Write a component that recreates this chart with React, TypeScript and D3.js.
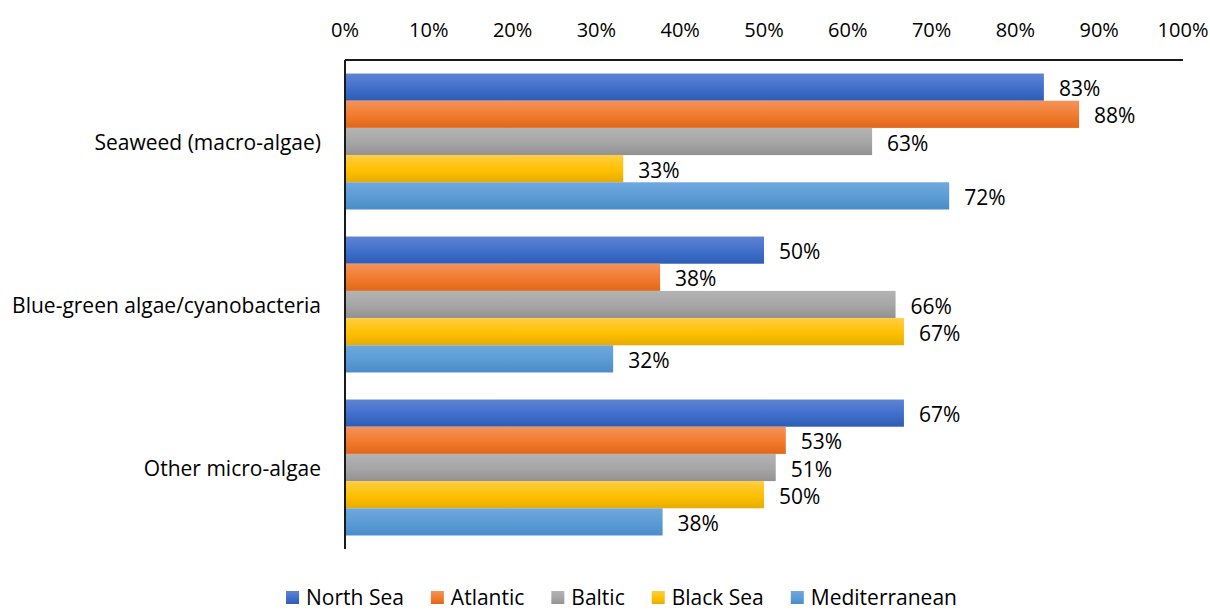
import React, { useEffect, useRef } from "react";
import * as d3 from "d3";

const categories = ["Seaweed (macro-algae)", "Blue-green algae/cyanobacteria", "Other micro-algae"];
const seriesNames = ["North Sea", "Atlantic", "Baltic", "Black Sea", "Mediterranean"];
const northSea = [0.834, 0.5, 0.667];
const atlantic = [0.876, 0.376, 0.526];
const baltic = [0.629, 0.657, 0.514];
const blackSea = [0.332, 0.667, 0.5];
const mediterranean = [0.721, 0.32, 0.379];
const tickValues = [0, 0.1, 0.2, 0.3, 0.4, 0.5, 0.6, 0.7, 0.8, 0.9, 1.0];
const seriesColors = [
  ["#6083d3", "#3f6fcb", "#2e5cb5"],
  ["#f4935c", "#f07b2c", "#e2661b"],
  ["#b4b4b4", "#a5a5a5", "#929292"],
  ["#ffcd43", "#ffc000", "#e6ad00"],
  ["#6fa8de", "#5b9bd5", "#4a8bc9"],
];

const W = 1210;
const H = 610;
const FONT = "'Open Sans', Lato, sans-serif";
const FS = 21;
const FS_TICK = 20;

export default function App() {
  const ref = useRef<SVGSVGElement>(null);

  useEffect(() => {
    const svg = d3.select(ref.current);
    svg.selectAll("*").remove();
    const values = [northSea, atlantic, baltic, blackSea, mediterranean];

    const left = 345, right = 1183, top = 60, bottom = 549;
    const x = d3.scaleLinear().domain([0, 1]).range([left, right]);
    const y0 = d3.scaleBand<string>().domain(categories).range([top, bottom]).paddingInner(0.166).paddingOuter(0.083);
    const y1 = d3.scaleBand<string>().domain(seriesNames).range([0, y0.bandwidth()]).padding(0);

    const defs = svg.append("defs");
    seriesColors.forEach((c, i) => {
      const g = defs.append("linearGradient").attr("id", `grad${i}`).attr("x1", 0).attr("y1", 0).attr("x2", 0).attr("y2", 1);
      g.append("stop").attr("offset", "0%").attr("stop-color", c[0]);
      g.append("stop").attr("offset", "55%").attr("stop-color", c[1]);
      g.append("stop").attr("offset", "100%").attr("stop-color", c[2]);
    });

    // bars
    seriesNames.forEach((s, si) => {
      const g = svg.append("g");
      categories.forEach((cat, ci) => {
        const v = values[si][ci];
        const yy = (y0(cat) as number) + (y1(s) as number);
        g.append("rect")
          .attr("x", x(0))
          .attr("y", yy)
          .attr("width", x(v) - x(0))
          .attr("height", y1.bandwidth())
          .attr("fill", `url(#grad${si})`);
        g.append("text")
          .attr("x", x(v) + 15)
          .attr("y", yy + y1.bandwidth() / 2 + 1)
          .attr("dominant-baseline", "central")
          .attr("font-family", FONT)
          .attr("font-size", FS)
          .attr("fill", "#000")
          .text(`${Math.round(v * 100)}%`);
      });
    });

    // axes lines
    svg.append("line").attr("x1", left).attr("x2", right).attr("y1", top).attr("y2", top).attr("stroke", "#1a1a1a").attr("stroke-width", 2);
    svg.append("line").attr("x1", left).attr("x2", left).attr("y1", top).attr("y2", bottom).attr("stroke", "#1a1a1a").attr("stroke-width", 2);

    // tick labels
    svg.append("g").selectAll("text").data(tickValues).join("text")
      .attr("x", (d) => x(d))
      .attr("y", 29)
      .attr("text-anchor", "middle")
      .attr("dominant-baseline", "central")
      .attr("font-family", FONT)
      .attr("font-size", FS_TICK)
      .attr("fill", "#000")
      .text((d) => `${Math.round(d * 100)}%`);

    // category labels
    svg.append("g").selectAll("text").data(categories).join("text")
      .attr("x", left - 24)
      .attr("y", (d) => (y0(d) as number) + y0.bandwidth() / 2)
      .attr("text-anchor", "end")
      .attr("dominant-baseline", "central")
      .attr("font-family", FONT)
      .attr("font-size", FS)
      .attr("fill", "#000")
      .text((d) => d);

    // legend
    const sq = 13, gapSq = 7, gapItem = 27;
    const lg = svg.append("g");
    const items = seriesNames.map((s, i) => {
      const gi = lg.append("g");
      gi.append("rect").attr("x", 0).attr("y", -14).attr("width", sq).attr("height", sq).attr("fill", `url(#grad${i})`);
      const t = gi.append("text").attr("x", sq + gapSq).attr("y", 0)
        .attr("font-family", FONT).attr("font-size", FS).attr("fill", "#000").text(s);
      const w = (t.node() as SVGTextElement).getComputedTextLength();
      return { gi, w: sq + gapSq + w };
    });
    const total = d3.sum(items, (d) => d.w) + gapItem * (items.length - 1);
    let cx = 621.5 - total / 2;
    items.forEach((it) => {
      it.gi.attr("transform", `translate(${cx},605)`);
      cx += it.w + gapItem;
    });
  }, []);

  return (
    <svg ref={ref} width={W} height={H} style={{ position: "absolute", left: 0, top: 0, background: "#fff" }} />
  );
}
